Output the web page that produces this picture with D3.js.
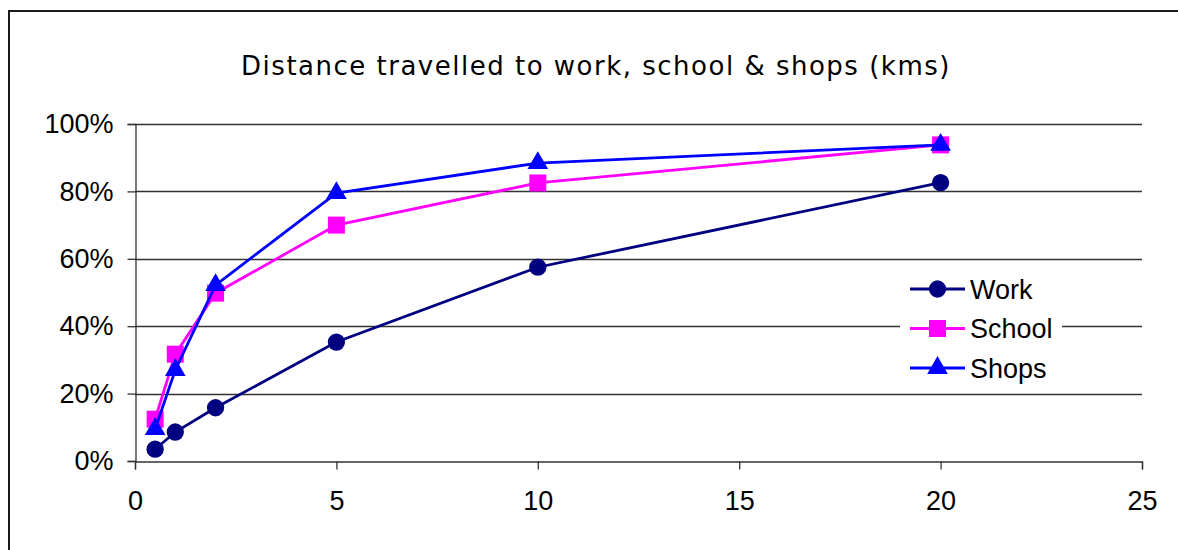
<!DOCTYPE html>
<html>
<head>
<meta charset="utf-8">
<script src="https://cdn.jsdelivr.net/npm/d3@7"></script>
<style>
  html, body { margin: 0; padding: 0; background: #fff; }
  svg { display: block; }
</style>
</head>
<body>
<svg id="chart" width="1178" height="550"></svg>
<script>
// Distance bands (km) and cumulative share of trips for each destination
const distances = [0.5, 1, 2, 5, 10, 20];
const work   = [0.035, 0.086, 0.158, 0.353, 0.575, 0.826];
const school = [0.124, 0.317, 0.498, 0.700, 0.825, 0.938];
const shops  = [0.095, 0.270, 0.522, 0.795, 0.884, 0.938];
const seriesNames = ["Work", "School", "Shops"];
const xTicks = [0, 5, 10, 15, 20, 25];
const yTicks = [0, 0.2, 0.4, 0.6, 0.8, 1.0];
const titleText = "Distance travelled to work, school & shops (kms)";

const svg = d3.select("#chart");
const W = 1178, H = 550;
const plot = { left: 135, right: 1142, top: 124, bottom: 461 };
const labelFont = "Liberation Sans, Arial, sans-serif";

const x = d3.scaleLinear().domain([0, 25]).range([plot.left, plot.right]);
const y = d3.scaleLinear().domain([0, 1]).range([plot.bottom, plot.top]);

// Chart frame (left and top edges visible)
svg.append("path")
  .attr("d", `M9,${H + 5} L9,11 L${W + 5},11`)
  .attr("fill", "none")
  .attr("stroke", "#1a1a1a")
  .attr("stroke-width", 2);

// Title
svg.append("text")
  .attr("x", 596)
  .attr("y", 75)
  .attr("text-anchor", "middle")
  .attr("font-family", "DejaVu Sans, Verdana, sans-serif")
  .attr("font-size", 26)
  .attr("letter-spacing", 1.5)
  .attr("fill", "#000")
  .text(titleText);

// Horizontal gridlines
svg.append("g")
  .selectAll("line")
  .data(yTicks.filter(d => d > 0))
  .join("line")
  .attr("x1", plot.left)
  .attr("x2", plot.right)
  .attr("y1", d => Math.round(y(d)) + 0.5)
  .attr("y2", d => Math.round(y(d)) + 0.5)
  .attr("stroke", "#333")
  .attr("stroke-width", 1.3);

// Y axis
const yAxis = d3.axisLeft(y)
  .tickValues(yTicks)
  .tickFormat(d3.format(".0%"))
  .tickSize(8)
  .tickPadding(14);
const gy = svg.append("g")
  .attr("transform", `translate(${plot.left + 0.5},0)`)
  .call(yAxis);
gy.select(".domain").attr("stroke", "#333").attr("stroke-width", 1.3);
gy.selectAll(".tick line").attr("stroke", "#333").attr("stroke-width", 1.3);
gy.selectAll(".tick text")
  .attr("font-family", labelFont)
  .attr("font-size", 27)
  .attr("fill", "#000");

// X axis
const xAxis = d3.axisBottom(x)
  .tickValues(xTicks)
  .tickFormat(d3.format("d"))
  .tickSize(8)
  .tickPadding(21);
const gx = svg.append("g")
  .attr("transform", `translate(0,${plot.bottom + 0.5})`)
  .call(xAxis);
gx.select(".domain").attr("stroke", "#333").attr("stroke-width", 1.3);
gx.selectAll(".tick line").attr("stroke", "#333").attr("stroke-width", 1.3);
gx.selectAll(".tick text")
  .attr("font-family", labelFont)
  .attr("font-size", 27)
  .attr("fill", "#000");

// Series definitions
const series = [
  { name: seriesNames[0], values: work,   color: "#000080", marker: "circle" },
  { name: seriesNames[1], values: school, color: "#ff00ff", marker: "square" },
  { name: seriesNames[2], values: shops,  color: "#0000ff", marker: "triangle" }
];

const symbolFor = {
  circle:   d3.symbol().type(d3.symbolCircle).size(235),
  square:   d3.symbol().type(d3.symbolSquare).size(289),
  triangle: d3.symbol().type(d3.symbolTriangle).size(185)
};

const line = d3.line()
  .x(d => x(d[0]))
  .y(d => y(d[1]));

series.forEach(s => {
  const pts = distances.map((d, i) => [d, s.values[i]]);
  const g = svg.append("g");
  g.append("path")
    .datum(pts)
    .attr("d", line)
    .attr("fill", "none")
    .attr("stroke", s.color)
    .attr("stroke-width", 2.8);
  g.selectAll("path.pt")
    .data(pts)
    .join("path")
    .attr("class", "pt")
    .attr("transform", d => `translate(${x(d[0])},${y(d[1])})`)
    .attr("d", symbolFor[s.marker]())
    .attr("fill", s.color);
});

// Legend
const legend = svg.append("g").attr("transform", "translate(900,270)");
legend.append("rect")
  .attr("x", 0).attr("y", 0)
  .attr("width", 162).attr("height", 118)
  .attr("fill", "#fff");
series.forEach((s, i) => {
  const cy = 19 + i * 39.5;
  legend.append("line")
    .attr("x1", 10).attr("x2", 65)
    .attr("y1", cy).attr("y2", cy)
    .attr("stroke", s.color)
    .attr("stroke-width", 2.8);
  legend.append("path")
    .attr("transform", `translate(37.5,${cy})`)
    .attr("d", symbolFor[s.marker]())
    .attr("fill", s.color);
  legend.append("text")
    .attr("x", 70)
    .attr("y", cy + 9.5)
    .attr("font-family", labelFont)
    .attr("font-size", 27)
    .attr("fill", "#000")
    .text(s.name);
});
</script>
</body>
</html>
